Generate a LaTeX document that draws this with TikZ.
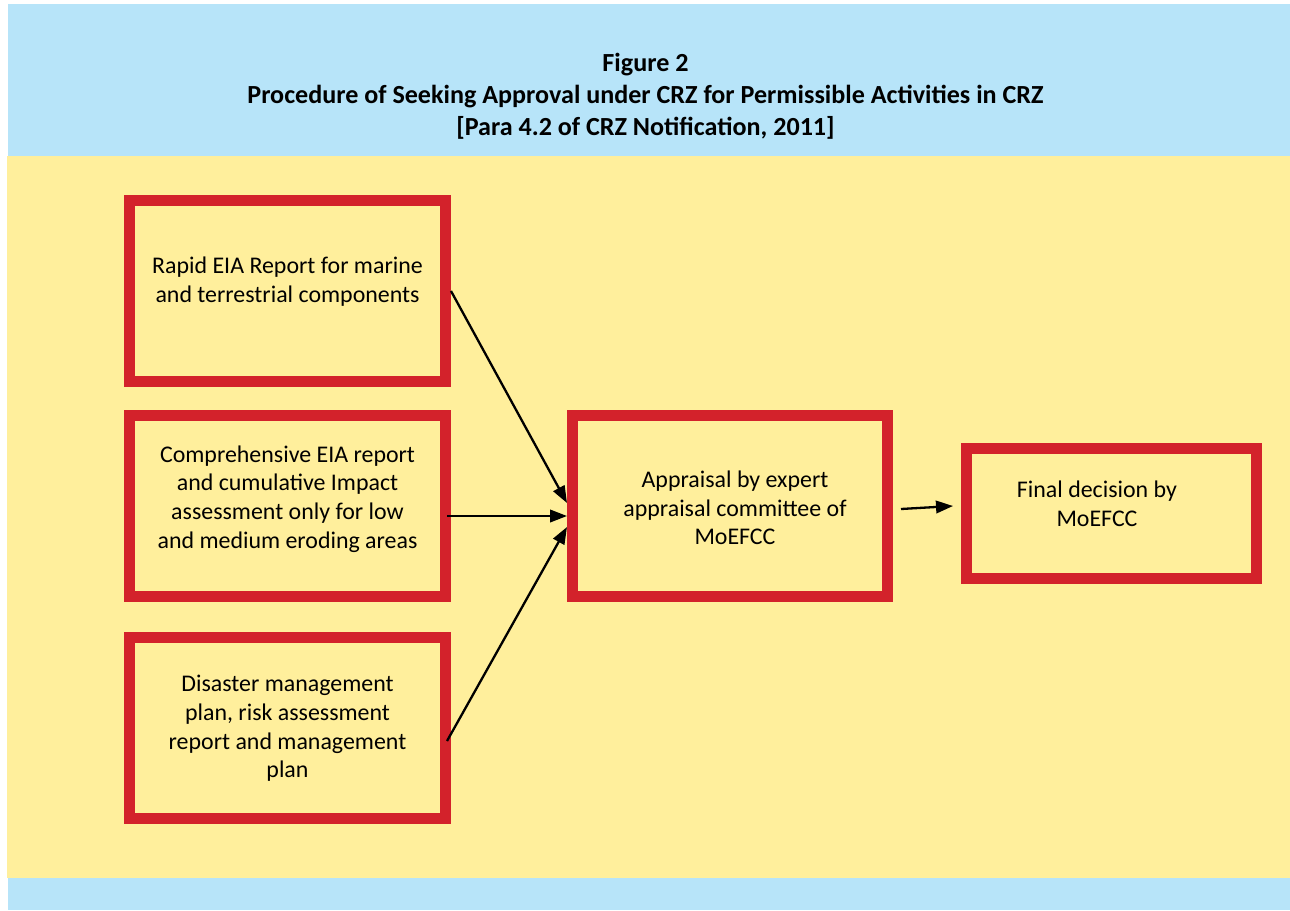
\documentclass[tikz,border=0pt]{standalone}
\usepackage{fontspec}
\setmainfont{Carlito}
\usetikzlibrary{calc,arrows.meta}
\definecolor{skyband}{RGB}{183,228,249}
\definecolor{sandfill}{RGB}{255,239,156}
\definecolor{boxred}{RGB}{211,34,43}
\tikzset{
  redbox/.style={draw=boxred, line width=10.7pt, fill=none, inner sep=0pt,
    minimum width=316.3pt, minimum height=181.3pt},
  boxtext/.style={inner sep=0pt, align=center, font=\fontsize{23.9}{28.6}\selectfont},
  flow/.style={line width=2.3pt, -{Triangle[length=17pt,width=12.5pt]}}
}
\begin{document}
\begin{tikzpicture}[x=1pt,y=-1pt]
\useasboundingbox (0,0) rectangle (1290,910);
\fill[white] (0,0) rectangle (1290,910);
\fill[skyband] (8,4) rectangle (1290,910);
\fill[sandfill] (6.6,156) rectangle (1290,878);

\node[inner sep=0pt, align=center, font=\fontsize{26.1}{32}\selectfont\bfseries] (title) at (645.5,96)
  {Figure 2\\Procedure of Seeking Approval under CRZ for Permissible Activities in CRZ\\{}[Para 4.2 of CRZ Notification, 2011]};

\node[redbox] (b1) at (287.5,291) {};
\node[redbox] (b2) at (287.5,506) {};
\node[redbox] (b3) at (287.5,728) {};
\node[redbox, minimum width=315.3pt] (b4) at (730,506) {};
\node[redbox, minimum width=290.3pt, minimum height=130.3pt] (b5) at (1111.5,513.5) {};

\node[boxtext] (t1) at (287.5,281.5) {Rapid EIA Report for marine\\and terrestrial components};
\node[boxtext] (t2) at (287.5,499) {Comprehensive EIA report\\and cumulative Impact\\assessment only for low\\and medium eroding areas};
\node[boxtext] (t3) at (287.5,728.5) {Disaster management\\plan, risk assessment\\report and management\\plan};
\node[boxtext] (t4) at (735,508) {Appraisal by expert\\appraisal committee of\\MoEFCC};
\node[boxtext] (t5) at (1097,503.5) {Final decision by\\MoEFCC};

\draw[flow] (b1.east) -- ($(b4.west)+(0,-3)$);
\draw[flow] ($(b2.east)+(-4,10)$) -- ($(b4.west)+(0,10)$);
\draw[flow] ($(b3.east)+(-4,13)$) -- ($(b4.west)+(0,21)$);
\draw[flow] ($(b4.east)+(8,3)$) -- ($(b5.west)+(-8,-7.5)$);
\end{tikzpicture}
\end{document}
